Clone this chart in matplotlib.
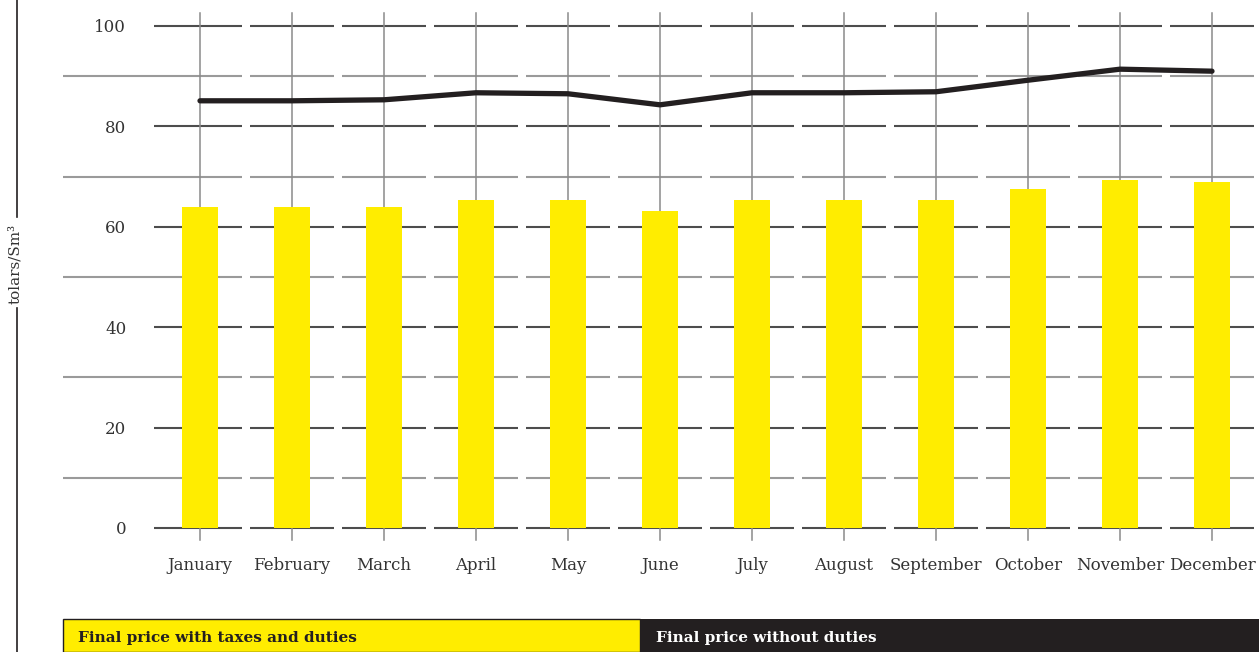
import matplotlib
matplotlib.use('Agg')
import matplotlib.pyplot as plt
from matplotlib.patches import Rectangle
from matplotlib.lines import Line2D

# data
months = ['January', 'February', 'March', 'April', 'May', 'June', 'July',
          'August', 'September', 'October', 'November', 'December']
with_taxes = [64.0, 64.0, 64.0, 65.4, 65.3, 63.1, 65.3, 65.3, 65.3, 67.5, 69.3, 68.9]
without_duties = [85.1, 85.1, 85.3, 86.7, 86.5, 84.3, 86.7, 86.7, 86.9, 89.2, 91.4, 91.0]
yticks = [0, 20, 40, 60, 80, 100]
ylabel = 'tolars/Sm³'
legend_labels = ['Final price with taxes and duties', 'Final price without duties']

YELLOW = '#ffed00'
DARK = '#231f20'

plt.rcParams['font.family'] = ['DejaVu Serif']

W, H = 1259, 652
fig = plt.figure(figsize=(W / 100, H / 100), dpi=100)
ax = fig.add_axes([154 / W, (H - 528) / H, (1258 - 154) / W, (528 - 26) / H])

n = len(months)
xs = list(range(n))

# segmentierte horizontale linien, pro monat ein stück
gap = 0.04
for v in range(0, 101, 10):
    major = v % 20 == 0
    col = '#4d4d4d' if major else '#9a9a9a'
    for i in xs:
        x0 = i - 0.5 + gap if i > 0 else -0.5
        if i == 0 and not major:
            x0 = -1.49
        x1 = i + 0.5 - gap
        ax.plot([x0, x1], [v, v], color=col, lw=1.5, zorder=1,
                clip_on=False, solid_capstyle='butt')

# vertikale linien bis unter die null (als tick)
for i in xs:
    ax.plot([i, i], [-2.4, 102.6], color='#8a8a8a', lw=1.1, zorder=1,
            clip_on=False)

ax.bar(xs, with_taxes, width=0.39, color=YELLOW, zorder=2)
ax.plot(xs, without_duties, color=DARK, lw=3.8, zorder=3,
        solid_capstyle='round', solid_joinstyle='round')

ax.set_xlim(-0.5, n - 0.5)
ax.set_ylim(0, 100)
for s in ax.spines.values():
    s.set_visible(False)
ax.set_yticks(yticks)
ax.set_yticklabels([str(t) for t in yticks])
ax.set_xticks(xs)
ax.set_xticklabels(months)
ax.tick_params(axis='y', length=0, pad=20, labelsize=12, labelcolor='#333333')
ax.tick_params(axis='x', length=0, pad=21, labelsize=12, labelcolor='#333333')

# y-label mit unterbrochener linie
fig.text(15 / W, 1 - 264 / H, ylabel, rotation=90, ha='center', va='center',
         fontsize=11, color='#333333')
fig.add_artist(Line2D([17 / W, 17 / W], [1, 1 - 217 / H], color=DARK, lw=1.2))
fig.add_artist(Line2D([17 / W, 17 / W], [1 - 308 / H, 0], color=DARK, lw=1.2))

# legende als zwei kästen unten
fig.add_artist(Rectangle((63 / W, 0), (640 - 63) / W, 33 / H, facecolor=YELLOW,
                         edgecolor=DARK, lw=1.0, transform=fig.transFigure))
fig.add_artist(Rectangle((640 / W, 0), (1259 - 640) / W, 33 / H, facecolor=DARK,
                         edgecolor='none', transform=fig.transFigure))
fig.text(78 / W, 1 - 638 / H, legend_labels[0], ha='left', va='center',
         fontsize=11, fontweight='bold', color=DARK)
fig.text(656 / W, 1 - 638 / H, legend_labels[1], ha='left', va='center',
         fontsize=11, fontweight='bold', color='white')

fig.savefig('out.png', dpi=100)
